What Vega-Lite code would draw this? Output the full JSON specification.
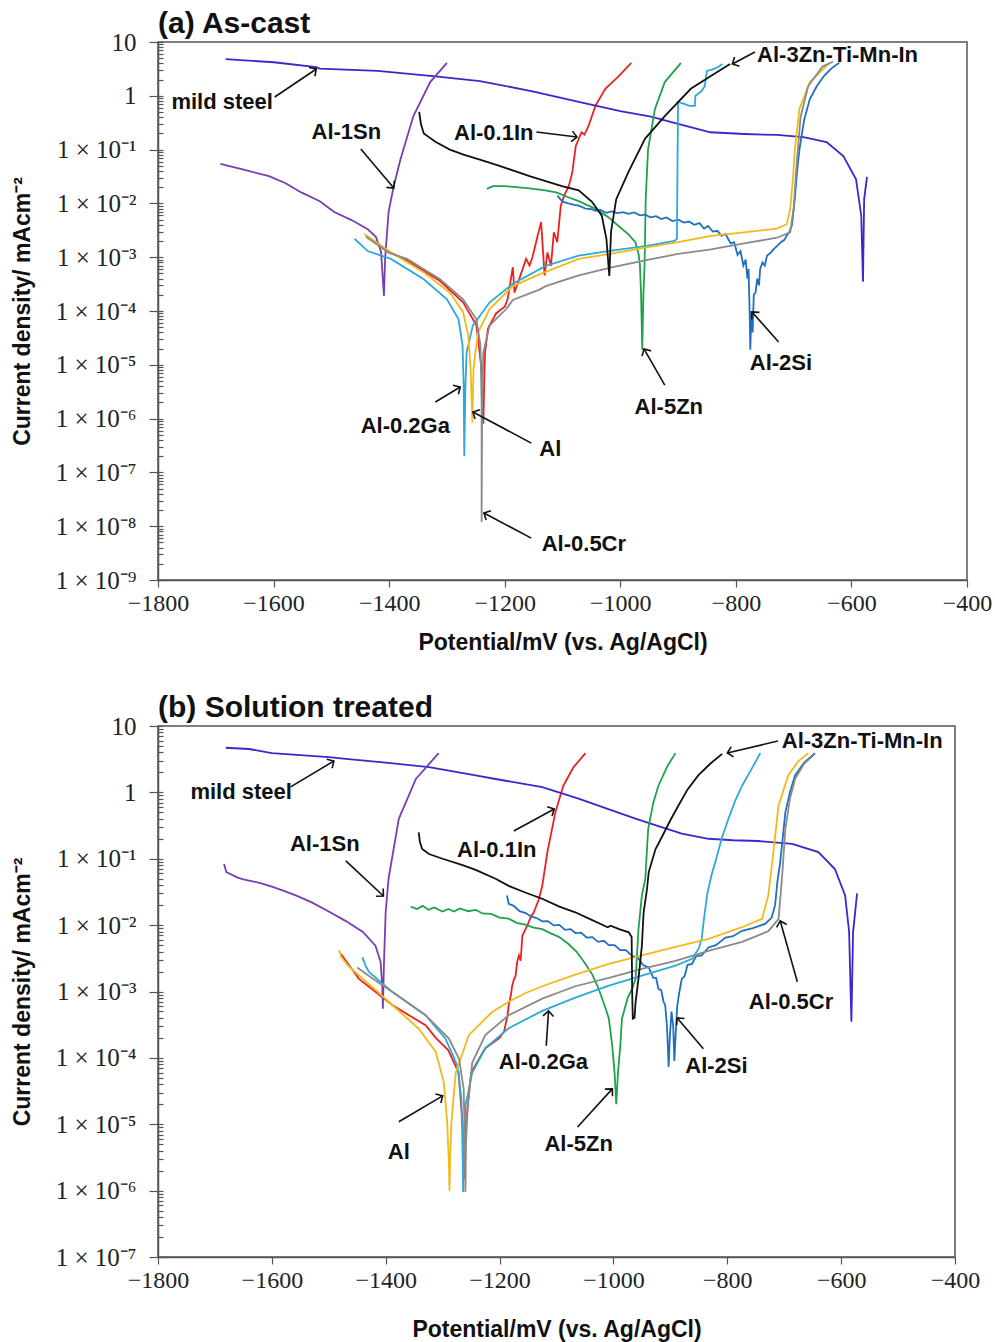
{
  "$schema": "https://vega.github.io/schema/vega-lite/v6.json",
  "background": "white",
  "padding": {"left": 10, "top": 8, "right": 2, "bottom": 2},
  "spacing": 37,
  "datasets": {
    "c": [
      {"p":"a","s":"Al-0.1In","E":-1440,"I":0.0025},{"p":"a","s":"Al-0.1In","E":-1400,"I":0.00125},{"p":"a","s":"Al-0.1In","E":-1369,"I":0.00087},{"p":"a","s":"Al-0.1In","E":-1312,"I":0.00036},{"p":"a","s":"Al-0.1In","E":-1272,"I":0.000145},{"p":"a","s":"Al-0.1In","E":-1249,"I":0.000054},{"p":"a","s":"Al-0.1In","E":-1240,"I":0.0000083},{"p":"a","s":"Al-0.1In","E":-1237,"I":0.0000008},{"p":"a","s":"Al-0.1In","E":-1235,"I":0.0000083},{"p":"a","s":"Al-0.1In","E":-1234,"I":0.000017},{"p":"a","s":"Al-0.1In","E":-1229,"I":0.000047},{"p":"a","s":"Al-0.1In","E":-1215,"I":0.00009},{"p":"a","s":"Al-0.1In","E":-1200,"I":0.00012},{"p":"a","s":"Al-0.1In","E":-1195,"I":0.000165},{"p":"a","s":"Al-0.1In","E":-1186,"I":0.00065},{"p":"a","s":"Al-0.1In","E":-1183,"I":0.00022},{"p":"a","s":"Al-0.1In","E":-1169,"I":0.0006},{"p":"a","s":"Al-0.1In","E":-1163,"I":0.00093},{"p":"a","s":"Al-0.1In","E":-1157,"I":0.0007},{"p":"a","s":"Al-0.1In","E":-1152,"I":0.001},{"p":"a","s":"Al-0.1In","E":-1143,"I":0.0025},{"p":"a","s":"Al-0.1In","E":-1137,"I":0.0045},{"p":"a","s":"Al-0.1In","E":-1131,"I":0.00046},{"p":"a","s":"Al-0.1In","E":-1126,"I":0.00123},{"p":"a","s":"Al-0.1In","E":-1120,"I":0.00069},{"p":"a","s":"Al-0.1In","E":-1115,"I":0.0029},{"p":"a","s":"Al-0.1In","E":-1109,"I":0.0019},{"p":"a","s":"Al-0.1In","E":-1103,"I":0.0091},{"p":"a","s":"Al-0.1In","E":-1097,"I":0.0139},{"p":"a","s":"Al-0.1In","E":-1089,"I":0.0214},{"p":"a","s":"Al-0.1In","E":-1083,"I":0.038},{"p":"a","s":"Al-0.1In","E":-1077,"I":0.117},{"p":"a","s":"Al-0.1In","E":-1067,"I":0.21},{"p":"a","s":"Al-0.1In","E":-1062,"I":0.19},{"p":"a","s":"Al-0.1In","E":-1055,"I":0.275},{"p":"a","s":"Al-0.1In","E":-1043,"I":0.65},{"p":"a","s":"Al-0.1In","E":-1026,"I":1.35},{"p":"a","s":"Al-0.1In","E":-1003,"I":2.3},{"p":"a","s":"Al-0.1In","E":-981,"I":4.1},

      {"p":"a","s":"mild steel","E":-1683,"I":4.8},{"p":"a","s":"mild steel","E":-1600,"I":4.2},{"p":"a","s":"mild steel","E":-1526,"I":3.4},{"p":"a","s":"mild steel","E":-1520,"I":3.2},{"p":"a","s":"mild steel","E":-1420,"I":2.9},{"p":"a","s":"mild steel","E":-1320,"I":2.3},{"p":"a","s":"mild steel","E":-1243,"I":1.88},{"p":"a","s":"mild steel","E":-1150,"I":1.2},{"p":"a","s":"mild steel","E":-1072,"I":0.77},{"p":"a","s":"mild steel","E":-1000,"I":0.52},{"p":"a","s":"mild steel","E":-947,"I":0.41},{"p":"a","s":"mild steel","E":-900,"I":0.3},{"p":"a","s":"mild steel","E":-844,"I":0.21},{"p":"a","s":"mild steel","E":-786,"I":0.195},{"p":"a","s":"mild steel","E":-729,"I":0.187},{"p":"a","s":"mild steel","E":-683,"I":0.17},{"p":"a","s":"mild steel","E":-643,"I":0.138},{"p":"a","s":"mild steel","E":-614,"I":0.076},{"p":"a","s":"mild steel","E":-592,"I":0.028},{"p":"a","s":"mild steel","E":-583,"I":0.0059},{"p":"a","s":"mild steel","E":-580,"I":0.00035},{"p":"a","s":"mild steel","E":-578,"I":0.012},{"p":"a","s":"mild steel","E":-573,"I":0.031},

      {"p":"a","s":"Al-1Sn","E":-1692,"I":0.054},{"p":"a","s":"Al-1Sn","E":-1650,"I":0.042},{"p":"a","s":"Al-1Sn","E":-1608,"I":0.032},{"p":"a","s":"Al-1Sn","E":-1580,"I":0.024},{"p":"a","s":"Al-1Sn","E":-1552,"I":0.016},{"p":"a","s":"Al-1Sn","E":-1520,"I":0.011},{"p":"a","s":"Al-1Sn","E":-1495,"I":0.0069},{"p":"a","s":"Al-1Sn","E":-1465,"I":0.0049},{"p":"a","s":"Al-1Sn","E":-1437,"I":0.0033},{"p":"a","s":"Al-1Sn","E":-1423,"I":0.0024},{"p":"a","s":"Al-1Sn","E":-1414,"I":0.00126},{"p":"a","s":"Al-1Sn","E":-1409,"I":0.00019},{"p":"a","s":"Al-1Sn","E":-1407,"I":0.00093},{"p":"a","s":"Al-1Sn","E":-1401,"I":0.0069},{"p":"a","s":"Al-1Sn","E":-1392,"I":0.021},{"p":"a","s":"Al-1Sn","E":-1380,"I":0.068},{"p":"a","s":"Al-1Sn","E":-1358,"I":0.42},{"p":"a","s":"Al-1Sn","E":-1329,"I":1.8},{"p":"a","s":"Al-1Sn","E":-1300,"I":4.1},

      {"p":"a","s":"Al-5Zn","E":-1231,"I":0.0186},{"p":"a","s":"Al-5Zn","E":-1220,"I":0.021},{"p":"a","s":"Al-5Zn","E":-1200,"I":0.021},{"p":"a","s":"Al-5Zn","E":-1180,"I":0.02},{"p":"a","s":"Al-5Zn","E":-1157,"I":0.019},{"p":"a","s":"Al-5Zn","E":-1130,"I":0.0175},{"p":"a","s":"Al-5Zn","E":-1111,"I":0.016},{"p":"a","s":"Al-5Zn","E":-1090,"I":0.013},{"p":"a","s":"Al-5Zn","E":-1072,"I":0.011},{"p":"a","s":"Al-5Zn","E":-1043,"I":0.0079},{"p":"a","s":"Al-5Zn","E":-1020,"I":0.0055},{"p":"a","s":"Al-5Zn","E":-1003,"I":0.0038},{"p":"a","s":"Al-5Zn","E":-985,"I":0.0026},{"p":"a","s":"Al-5Zn","E":-974,"I":0.0019},{"p":"a","s":"Al-5Zn","E":-968,"I":0.0011},{"p":"a","s":"Al-5Zn","E":-966,"I":0.0007},{"p":"a","s":"Al-5Zn","E":-964,"I":0.0002},{"p":"a","s":"Al-5Zn","E":-962,"I":0.000019},{"p":"a","s":"Al-5Zn","E":-960,"I":0.0002},{"p":"a","s":"Al-5Zn","E":-958,"I":0.0007},{"p":"a","s":"Al-5Zn","E":-956,"I":0.012},{"p":"a","s":"Al-5Zn","E":-952,"I":0.1},{"p":"a","s":"Al-5Zn","E":-940,"I":0.57},{"p":"a","s":"Al-5Zn","E":-923,"I":1.8},{"p":"a","s":"Al-5Zn","E":-895,"I":4.1},

      {"p":"a","s":"Al-2Si","E":-1109,"I":0.0139},{"p":"a","s":"Al-2Si","E":-1100,"I":0.0108},{"p":"a","s":"Al-2Si","E":-1090,"I":0.01},{"p":"a","s":"Al-2Si","E":-1080,"I":0.0094},{"p":"a","s":"Al-2Si","E":-1072,"I":0.0091},{"p":"a","s":"Al-2Si","E":-1060,"I":0.008},{"p":"a","s":"Al-2Si","E":-1050,"I":0.0078},{"p":"a","s":"Al-2Si","E":-1043,"I":0.0073},{"p":"a","s":"Al-2Si","E":-1035,"I":0.0076},{"p":"a","s":"Al-2Si","E":-1025,"I":0.0067},{"p":"a","s":"Al-2Si","E":-1015,"I":0.0071},{"p":"a","s":"Al-2Si","E":-1005,"I":0.0066},{"p":"a","s":"Al-2Si","E":-995,"I":0.0069},{"p":"a","s":"Al-2Si","E":-986,"I":0.0064},{"p":"a","s":"Al-2Si","E":-976,"I":0.0068},{"p":"a","s":"Al-2Si","E":-966,"I":0.006},{"p":"a","s":"Al-2Si","E":-957,"I":0.0062},{"p":"a","s":"Al-2Si","E":-948,"I":0.0055},{"p":"a","s":"Al-2Si","E":-938,"I":0.0058},{"p":"a","s":"Al-2Si","E":-929,"I":0.0051},{"p":"a","s":"Al-2Si","E":-920,"I":0.0055},{"p":"a","s":"Al-2Si","E":-910,"I":0.0047},{"p":"a","s":"Al-2Si","E":-900,"I":0.005},{"p":"a","s":"Al-2Si","E":-890,"I":0.0044},{"p":"a","s":"Al-2Si","E":-881,"I":0.0046},{"p":"a","s":"Al-2Si","E":-872,"I":0.004},{"p":"a","s":"Al-2Si","E":-863,"I":0.0043},{"p":"a","s":"Al-2Si","E":-855,"I":0.0034},{"p":"a","s":"Al-2Si","E":-848,"I":0.0038},{"p":"a","s":"Al-2Si","E":-840,"I":0.003},{"p":"a","s":"Al-2Si","E":-832,"I":0.0031},{"p":"a","s":"Al-2Si","E":-825,"I":0.0025},{"p":"a","s":"Al-2Si","E":-818,"I":0.0027},{"p":"a","s":"Al-2Si","E":-809,"I":0.0018},{"p":"a","s":"Al-2Si","E":-803,"I":0.0019},{"p":"a","s":"Al-2Si","E":-797,"I":0.0011},{"p":"a","s":"Al-2Si","E":-792,"I":0.0013},{"p":"a","s":"Al-2Si","E":-787,"I":0.0007},{"p":"a","s":"Al-2Si","E":-783,"I":0.0009},{"p":"a","s":"Al-2Si","E":-780,"I":0.0004},{"p":"a","s":"Al-2Si","E":-778,"I":0.0006},{"p":"a","s":"Al-2Si","E":-776,"I":0.00008},{"p":"a","s":"Al-2Si","E":-775,"I":0.000019},{"p":"a","s":"Al-2Si","E":-773,"I":0.0001},{"p":"a","s":"Al-2Si","E":-771,"I":0.00004},{"p":"a","s":"Al-2Si","E":-769,"I":0.0002},{"p":"a","s":"Al-2Si","E":-766,"I":0.00022},{"p":"a","s":"Al-2Si","E":-763,"I":0.0004},{"p":"a","s":"Al-2Si","E":-760,"I":0.0003},{"p":"a","s":"Al-2Si","E":-758,"I":0.0006},{"p":"a","s":"Al-2Si","E":-754,"I":0.0008},{"p":"a","s":"Al-2Si","E":-750,"I":0.0007},{"p":"a","s":"Al-2Si","E":-746,"I":0.00107},{"p":"a","s":"Al-2Si","E":-740,"I":0.0012},{"p":"a","s":"Al-2Si","E":-735,"I":0.0014},{"p":"a","s":"Al-2Si","E":-729,"I":0.0016},{"p":"a","s":"Al-2Si","E":-722,"I":0.0019},{"p":"a","s":"Al-2Si","E":-716,"I":0.0021},{"p":"a","s":"Al-2Si","E":-712,"I":0.0025},{"p":"a","s":"Al-2Si","E":-707,"I":0.003},{"p":"a","s":"Al-2Si","E":-703,"I":0.0039},{"p":"a","s":"Al-2Si","E":-698,"I":0.012},{"p":"a","s":"Al-2Si","E":-694,"I":0.04},{"p":"a","s":"Al-2Si","E":-690,"I":0.1},{"p":"a","s":"Al-2Si","E":-682,"I":0.35},{"p":"a","s":"Al-2Si","E":-672,"I":0.87},{"p":"a","s":"Al-2Si","E":-660,"I":1.5},{"p":"a","s":"Al-2Si","E":-648,"I":2.3},{"p":"a","s":"Al-2Si","E":-635,"I":3.2},{"p":"a","s":"Al-2Si","E":-621,"I":4.1},

      {"p":"a","s":"Al-0.2Ga","E":-1460,"I":0.0022},{"p":"a","s":"Al-0.2Ga","E":-1437,"I":0.0013},{"p":"a","s":"Al-0.2Ga","E":-1397,"I":0.00093},{"p":"a","s":"Al-0.2Ga","E":-1340,"I":0.00039},{"p":"a","s":"Al-0.2Ga","E":-1300,"I":0.000165},{"p":"a","s":"Al-0.2Ga","E":-1280,"I":0.000071},{"p":"a","s":"Al-0.2Ga","E":-1273,"I":0.000023},{"p":"a","s":"Al-0.2Ga","E":-1271,"I":0.000004},{"p":"a","s":"Al-0.2Ga","E":-1270,"I":0.0000002},{"p":"a","s":"Al-0.2Ga","E":-1268,"I":0.000004},{"p":"a","s":"Al-0.2Ga","E":-1266,"I":0.000017},{"p":"a","s":"Al-0.2Ga","E":-1255,"I":0.000054},{"p":"a","s":"Al-0.2Ga","E":-1226,"I":0.000145},{"p":"a","s":"Al-0.2Ga","E":-1186,"I":0.00032},{"p":"a","s":"Al-0.2Ga","E":-1129,"I":0.00069},{"p":"a","s":"Al-0.2Ga","E":-1072,"I":0.00107},{"p":"a","s":"Al-0.2Ga","E":-1015,"I":0.00132},{"p":"a","s":"Al-0.2Ga","E":-957,"I":0.0016},{"p":"a","s":"Al-0.2Ga","E":-906,"I":0.002},{"p":"a","s":"Al-0.2Ga","E":-902,"I":0.0022},{"p":"a","s":"Al-0.2Ga","E":-901,"I":0.05},{"p":"a","s":"Al-0.2Ga","E":-900,"I":0.77},{"p":"a","s":"Al-0.2Ga","E":-892,"I":0.72},{"p":"a","s":"Al-0.2Ga","E":-880,"I":0.65},{"p":"a","s":"Al-0.2Ga","E":-871,"I":0.65},{"p":"a","s":"Al-0.2Ga","E":-870,"I":1.0},{"p":"a","s":"Al-0.2Ga","E":-860,"I":1.2},{"p":"a","s":"Al-0.2Ga","E":-854,"I":1.5},{"p":"a","s":"Al-0.2Ga","E":-850,"I":2.9},{"p":"a","s":"Al-0.2Ga","E":-840,"I":3.1},{"p":"a","s":"Al-0.2Ga","E":-832,"I":3.4},{"p":"a","s":"Al-0.2Ga","E":-823,"I":3.9},

      {"p":"a","s":"Al","E":-1443,"I":0.0027},{"p":"a","s":"Al","E":-1397,"I":0.00123},{"p":"a","s":"Al","E":-1340,"I":0.00052},{"p":"a","s":"Al","E":-1295,"I":0.00022},{"p":"a","s":"Al","E":-1272,"I":0.000095},{"p":"a","s":"Al","E":-1263,"I":0.000035},{"p":"a","s":"Al","E":-1259,"I":0.0000083},{"p":"a","s":"Al","E":-1256,"I":0.00000085},{"p":"a","s":"Al","E":-1254,"I":0.0000083},{"p":"a","s":"Al","E":-1250,"I":0.00002},{"p":"a","s":"Al","E":-1246,"I":0.00004},{"p":"a","s":"Al","E":-1226,"I":0.00011},{"p":"a","s":"Al","E":-1186,"I":0.00029},{"p":"a","s":"Al","E":-1140,"I":0.00048},{"p":"a","s":"Al","E":-1072,"I":0.00093},{"p":"a","s":"Al","E":-1015,"I":0.00117},{"p":"a","s":"Al","E":-957,"I":0.0015},{"p":"a","s":"Al","E":-900,"I":0.0019},{"p":"a","s":"Al","E":-843,"I":0.0025},{"p":"a","s":"Al","E":-786,"I":0.0029},{"p":"a","s":"Al","E":-729,"I":0.0034},{"p":"a","s":"Al","E":-712,"I":0.0041},{"p":"a","s":"Al","E":-706,"I":0.0079},{"p":"a","s":"Al","E":-701,"I":0.03},{"p":"a","s":"Al","E":-698,"I":0.1},{"p":"a","s":"Al","E":-690,"I":0.57},{"p":"a","s":"Al","E":-672,"I":1.8},{"p":"a","s":"Al","E":-638,"I":4.1},

      {"p":"a","s":"Al-0.5Cr","E":-1440,"I":0.0024},{"p":"a","s":"Al-0.5Cr","E":-1400,"I":0.0012},{"p":"a","s":"Al-0.5Cr","E":-1369,"I":0.00093},{"p":"a","s":"Al-0.5Cr","E":-1312,"I":0.00039},{"p":"a","s":"Al-0.5Cr","E":-1272,"I":0.000165},{"p":"a","s":"Al-0.5Cr","E":-1249,"I":0.00007},{"p":"a","s":"Al-0.5Cr","E":-1242,"I":0.000023},{"p":"a","s":"Al-0.5Cr","E":-1240,"I":0.000002},{"p":"a","s":"Al-0.5Cr","E":-1240,"I":0.000000012},{"p":"a","s":"Al-0.5Cr","E":-1239,"I":0.000002},{"p":"a","s":"Al-0.5Cr","E":-1237,"I":0.000017},{"p":"a","s":"Al-0.5Cr","E":-1226,"I":0.000054},{"p":"a","s":"Al-0.5Cr","E":-1197,"I":0.00011},{"p":"a","s":"Al-0.5Cr","E":-1186,"I":0.00016},{"p":"a","s":"Al-0.5Cr","E":-1140,"I":0.00025},{"p":"a","s":"Al-0.5Cr","E":-1129,"I":0.00029},{"p":"a","s":"Al-0.5Cr","E":-1072,"I":0.00046},{"p":"a","s":"Al-0.5Cr","E":-1015,"I":0.00065},{"p":"a","s":"Al-0.5Cr","E":-957,"I":0.00087},{"p":"a","s":"Al-0.5Cr","E":-900,"I":0.00115},{"p":"a","s":"Al-0.5Cr","E":-843,"I":0.0014},{"p":"a","s":"Al-0.5Cr","E":-786,"I":0.0018},{"p":"a","s":"Al-0.5Cr","E":-729,"I":0.0023},{"p":"a","s":"Al-0.5Cr","E":-706,"I":0.0029},{"p":"a","s":"Al-0.5Cr","E":-700,"I":0.008},{"p":"a","s":"Al-0.5Cr","E":-695,"I":0.05},{"p":"a","s":"Al-0.5Cr","E":-688,"I":0.4},{"p":"a","s":"Al-0.5Cr","E":-675,"I":1.5},{"p":"a","s":"Al-0.5Cr","E":-650,"I":3.5},{"p":"a","s":"Al-0.5Cr","E":-632,"I":4.3},

      {"p":"a","s":"Al-3Zn-Ti-Mn-In","E":-1348,"I":0.5},{"p":"a","s":"Al-3Zn-Ti-Mn-In","E":-1345,"I":0.3},{"p":"a","s":"Al-3Zn-Ti-Mn-In","E":-1340,"I":0.2},{"p":"a","s":"Al-3Zn-Ti-Mn-In","E":-1320,"I":0.14},{"p":"a","s":"Al-3Zn-Ti-Mn-In","E":-1295,"I":0.1},{"p":"a","s":"Al-3Zn-Ti-Mn-In","E":-1270,"I":0.08},{"p":"a","s":"Al-3Zn-Ti-Mn-In","E":-1243,"I":0.065},{"p":"a","s":"Al-3Zn-Ti-Mn-In","E":-1209,"I":0.05},{"p":"a","s":"Al-3Zn-Ti-Mn-In","E":-1157,"I":0.032},{"p":"a","s":"Al-3Zn-Ti-Mn-In","E":-1101,"I":0.021},{"p":"a","s":"Al-3Zn-Ti-Mn-In","E":-1072,"I":0.0175},{"p":"a","s":"Al-3Zn-Ti-Mn-In","E":-1049,"I":0.0107},{"p":"a","s":"Al-3Zn-Ti-Mn-In","E":-1032,"I":0.0059},{"p":"a","s":"Al-3Zn-Ti-Mn-In","E":-1024,"I":0.0022},{"p":"a","s":"Al-3Zn-Ti-Mn-In","E":-1019,"I":0.00045},{"p":"a","s":"Al-3Zn-Ti-Mn-In","E":-1016,"I":0.003},{"p":"a","s":"Al-3Zn-Ti-Mn-In","E":-1007,"I":0.012},{"p":"a","s":"Al-3Zn-Ti-Mn-In","E":-986,"I":0.038},{"p":"a","s":"Al-3Zn-Ti-Mn-In","E":-957,"I":0.16},{"p":"a","s":"Al-3Zn-Ti-Mn-In","E":-923,"I":0.42},{"p":"a","s":"Al-3Zn-Ti-Mn-In","E":-878,"I":1.35},{"p":"a","s":"Al-3Zn-Ti-Mn-In","E":-844,"I":2.3},{"p":"a","s":"Al-3Zn-Ti-Mn-In","E":-810,"I":3.9},

      {"p":"b","s":"Al-0.1In","E":-1479,"I":0.0037},{"p":"b","s":"Al-0.1In","E":-1447,"I":0.00155},{"p":"b","s":"Al-0.1In","E":-1388,"I":0.00062},{"p":"b","s":"Al-0.1In","E":-1330,"I":0.00031},{"p":"b","s":"Al-0.1In","E":-1312,"I":0.0002},{"p":"b","s":"Al-0.1In","E":-1290,"I":0.00013},{"p":"b","s":"Al-0.1In","E":-1272,"I":0.00006},{"p":"b","s":"Al-0.1In","E":-1265,"I":0.00001},{"p":"b","s":"Al-0.1In","E":-1262,"I":0.0000015},{"p":"b","s":"Al-0.1In","E":-1259,"I":0.00001},{"p":"b","s":"Al-0.1In","E":-1250,"I":0.00006},{"p":"b","s":"Al-0.1In","E":-1225,"I":0.00014},{"p":"b","s":"Al-0.1In","E":-1200,"I":0.0002},{"p":"b","s":"Al-0.1In","E":-1192,"I":0.00025},{"p":"b","s":"Al-0.1In","E":-1186,"I":0.00044},{"p":"b","s":"Al-0.1In","E":-1184,"I":0.00062},{"p":"b","s":"Al-0.1In","E":-1180,"I":0.0009},{"p":"b","s":"Al-0.1In","E":-1178,"I":0.0012},{"p":"b","s":"Al-0.1In","E":-1175,"I":0.0015},{"p":"b","s":"Al-0.1In","E":-1172,"I":0.0017},{"p":"b","s":"Al-0.1In","E":-1169,"I":0.0028},{"p":"b","s":"Al-0.1In","E":-1166,"I":0.0035},{"p":"b","s":"Al-0.1In","E":-1163,"I":0.0029},{"p":"b","s":"Al-0.1In","E":-1160,"I":0.0069},{"p":"b","s":"Al-0.1In","E":-1155,"I":0.0085},{"p":"b","s":"Al-0.1In","E":-1149,"I":0.011},{"p":"b","s":"Al-0.1In","E":-1145,"I":0.0135},{"p":"b","s":"Al-0.1In","E":-1140,"I":0.0155},{"p":"b","s":"Al-0.1In","E":-1131,"I":0.0245},{"p":"b","s":"Al-0.1In","E":-1125,"I":0.039},{"p":"b","s":"Al-0.1In","E":-1116,"I":0.126},{"p":"b","s":"Al-0.1In","E":-1102,"I":0.5},{"p":"b","s":"Al-0.1In","E":-1088,"I":1.26},{"p":"b","s":"Al-0.1In","E":-1070,"I":2.4},{"p":"b","s":"Al-0.1In","E":-1049,"I":3.9},

      {"p":"b","s":"mild steel","E":-1681,"I":4.7},{"p":"b","s":"mild steel","E":-1640,"I":4.5},{"p":"b","s":"mild steel","E":-1600,"I":3.9},{"p":"b","s":"mild steel","E":-1500,"I":3.4},{"p":"b","s":"mild steel","E":-1470,"I":3.2},{"p":"b","s":"mild steel","E":-1400,"I":2.8},{"p":"b","s":"mild steel","E":-1324,"I":2.4},{"p":"b","s":"mild steel","E":-1242,"I":1.8},{"p":"b","s":"mild steel","E":-1207,"I":1.59},{"p":"b","s":"mild steel","E":-1125,"I":1.2},{"p":"b","s":"mild steel","E":-1060,"I":0.8},{"p":"b","s":"mild steel","E":-1009,"I":0.56},{"p":"b","s":"mild steel","E":-960,"I":0.4},{"p":"b","s":"mild steel","E":-921,"I":0.31},{"p":"b","s":"mild steel","E":-880,"I":0.24},{"p":"b","s":"mild steel","E":-833,"I":0.2},{"p":"b","s":"mild steel","E":-790,"I":0.19},{"p":"b","s":"mild steel","E":-746,"I":0.185},{"p":"b","s":"mild steel","E":-686,"I":0.167},{"p":"b","s":"mild steel","E":-640,"I":0.126},{"p":"b","s":"mild steel","E":-611,"I":0.07},{"p":"b","s":"mild steel","E":-593,"I":0.028},{"p":"b","s":"mild steel","E":-586,"I":0.0079},{"p":"b","s":"mild steel","E":-582,"I":0.00035},{"p":"b","s":"mild steel","E":-579,"I":0.0079},{"p":"b","s":"mild steel","E":-572,"I":0.03},

      {"p":"b","s":"Al-1Sn","E":-1684,"I":0.083},{"p":"b","s":"Al-1Sn","E":-1680,"I":0.063},{"p":"b","s":"Al-1Sn","E":-1660,"I":0.052},{"p":"b","s":"Al-1Sn","E":-1650,"I":0.049},{"p":"b","s":"Al-1Sn","E":-1640,"I":0.047},{"p":"b","s":"Al-1Sn","E":-1620,"I":0.043},{"p":"b","s":"Al-1Sn","E":-1600,"I":0.038},{"p":"b","s":"Al-1Sn","E":-1580,"I":0.033},{"p":"b","s":"Al-1Sn","E":-1558,"I":0.028},{"p":"b","s":"Al-1Sn","E":-1530,"I":0.022},{"p":"b","s":"Al-1Sn","E":-1500,"I":0.016},{"p":"b","s":"Al-1Sn","E":-1470,"I":0.0115},{"p":"b","s":"Al-1Sn","E":-1440,"I":0.0079},{"p":"b","s":"Al-1Sn","E":-1418,"I":0.0049},{"p":"b","s":"Al-1Sn","E":-1409,"I":0.0028},{"p":"b","s":"Al-1Sn","E":-1406,"I":0.0012},{"p":"b","s":"Al-1Sn","E":-1405,"I":0.00055},{"p":"b","s":"Al-1Sn","E":-1404,"I":0.0012},{"p":"b","s":"Al-1Sn","E":-1403,"I":0.0028},{"p":"b","s":"Al-1Sn","E":-1400,"I":0.016},{"p":"b","s":"Al-1Sn","E":-1395,"I":0.05},{"p":"b","s":"Al-1Sn","E":-1377,"I":0.4},{"p":"b","s":"Al-1Sn","E":-1347,"I":1.59},{"p":"b","s":"Al-1Sn","E":-1307,"I":3.9},

      {"p":"b","s":"Al-5Zn","E":-1356,"I":0.019},{"p":"b","s":"Al-5Zn","E":-1345,"I":0.0175},{"p":"b","s":"Al-5Zn","E":-1335,"I":0.0195},{"p":"b","s":"Al-5Zn","E":-1325,"I":0.017},{"p":"b","s":"Al-5Zn","E":-1315,"I":0.0185},{"p":"b","s":"Al-5Zn","E":-1300,"I":0.016},{"p":"b","s":"Al-5Zn","E":-1290,"I":0.0175},{"p":"b","s":"Al-5Zn","E":-1280,"I":0.016},{"p":"b","s":"Al-5Zn","E":-1270,"I":0.0178},{"p":"b","s":"Al-5Zn","E":-1255,"I":0.0162},{"p":"b","s":"Al-5Zn","E":-1242,"I":0.017},{"p":"b","s":"Al-5Zn","E":-1230,"I":0.015},{"p":"b","s":"Al-5Zn","E":-1215,"I":0.0148},{"p":"b","s":"Al-5Zn","E":-1200,"I":0.013},{"p":"b","s":"Al-5Zn","E":-1184,"I":0.0125},{"p":"b","s":"Al-5Zn","E":-1170,"I":0.0108},{"p":"b","s":"Al-5Zn","E":-1155,"I":0.0102},{"p":"b","s":"Al-5Zn","E":-1140,"I":0.0092},{"p":"b","s":"Al-5Zn","E":-1125,"I":0.0087},{"p":"b","s":"Al-5Zn","E":-1110,"I":0.0075},{"p":"b","s":"Al-5Zn","E":-1095,"I":0.0066},{"p":"b","s":"Al-5Zn","E":-1079,"I":0.0052},{"p":"b","s":"Al-5Zn","E":-1065,"I":0.004},{"p":"b","s":"Al-5Zn","E":-1049,"I":0.0026},{"p":"b","s":"Al-5Zn","E":-1037,"I":0.0018},{"p":"b","s":"Al-5Zn","E":-1026,"I":0.0011},{"p":"b","s":"Al-5Zn","E":-1015,"I":0.0006},{"p":"b","s":"Al-5Zn","E":-1008,"I":0.00039},{"p":"b","s":"Al-5Zn","E":-1002,"I":0.00015},{"p":"b","s":"Al-5Zn","E":-998,"I":0.00006},{"p":"b","s":"Al-5Zn","E":-995,"I":0.00002},{"p":"b","s":"Al-5Zn","E":-992,"I":0.00006},{"p":"b","s":"Al-5Zn","E":-988,"I":0.00015},{"p":"b","s":"Al-5Zn","E":-985,"I":0.00039},{"p":"b","s":"Al-5Zn","E":-975,"I":0.0008},{"p":"b","s":"Al-5Zn","E":-967,"I":0.0011},{"p":"b","s":"Al-5Zn","E":-961,"I":0.00155},{"p":"b","s":"Al-5Zn","E":-956,"I":0.0087},{"p":"b","s":"Al-5Zn","E":-950,"I":0.028},{"p":"b","s":"Al-5Zn","E":-944,"I":0.05},{"p":"b","s":"Al-5Zn","E":-939,"I":0.28},{"p":"b","s":"Al-5Zn","E":-930,"I":0.7},{"p":"b","s":"Al-5Zn","E":-921,"I":1.26},{"p":"b","s":"Al-5Zn","E":-905,"I":2.5},{"p":"b","s":"Al-5Zn","E":-891,"I":3.9},

      {"p":"b","s":"Al-2Si","E":-1187,"I":0.028},{"p":"b","s":"Al-2Si","E":-1184,"I":0.021},{"p":"b","s":"Al-2Si","E":-1175,"I":0.0195},{"p":"b","s":"Al-2Si","E":-1165,"I":0.0162},{"p":"b","s":"Al-2Si","E":-1154,"I":0.0152},{"p":"b","s":"Al-2Si","E":-1145,"I":0.0135},{"p":"b","s":"Al-2Si","E":-1135,"I":0.0128},{"p":"b","s":"Al-2Si","E":-1125,"I":0.0114},{"p":"b","s":"Al-2Si","E":-1115,"I":0.0115},{"p":"b","s":"Al-2Si","E":-1105,"I":0.0099},{"p":"b","s":"Al-2Si","E":-1095,"I":0.0101},{"p":"b","s":"Al-2Si","E":-1085,"I":0.0085},{"p":"b","s":"Al-2Si","E":-1075,"I":0.0087},{"p":"b","s":"Al-2Si","E":-1067,"I":0.0076},{"p":"b","s":"Al-2Si","E":-1057,"I":0.0077},{"p":"b","s":"Al-2Si","E":-1047,"I":0.0065},{"p":"b","s":"Al-2Si","E":-1037,"I":0.0066},{"p":"b","s":"Al-2Si","E":-1027,"I":0.0056},{"p":"b","s":"Al-2Si","E":-1017,"I":0.0058},{"p":"b","s":"Al-2Si","E":-1008,"I":0.005},{"p":"b","s":"Al-2Si","E":-998,"I":0.005},{"p":"b","s":"Al-2Si","E":-988,"I":0.0042},{"p":"b","s":"Al-2Si","E":-978,"I":0.0042},{"p":"b","s":"Al-2Si","E":-967,"I":0.0034},{"p":"b","s":"Al-2Si","E":-958,"I":0.0033},{"p":"b","s":"Al-2Si","E":-948,"I":0.0025},{"p":"b","s":"Al-2Si","E":-938,"I":0.0023},{"p":"b","s":"Al-2Si","E":-930,"I":0.0016},{"p":"b","s":"Al-2Si","E":-925,"I":0.0016},{"p":"b","s":"Al-2Si","E":-921,"I":0.0011},{"p":"b","s":"Al-2Si","E":-916,"I":0.00105},{"p":"b","s":"Al-2Si","E":-912,"I":0.0007},{"p":"b","s":"Al-2Si","E":-909,"I":0.00062},{"p":"b","s":"Al-2Si","E":-906,"I":0.0003},{"p":"b","s":"Al-2Si","E":-904,"I":0.00012},{"p":"b","s":"Al-2Si","E":-903,"I":0.000073},{"p":"b","s":"Al-2Si","E":-901,"I":0.0002},{"p":"b","s":"Al-2Si","E":-898,"I":0.0005},{"p":"b","s":"Al-2Si","E":-895,"I":0.0003},{"p":"b","s":"Al-2Si","E":-893,"I":0.00009},{"p":"b","s":"Al-2Si","E":-891,"I":0.0002},{"p":"b","s":"Al-2Si","E":-888,"I":0.0006},{"p":"b","s":"Al-2Si","E":-885,"I":0.0009},{"p":"b","s":"Al-2Si","E":-880,"I":0.00155},{"p":"b","s":"Al-2Si","E":-875,"I":0.0017},{"p":"b","s":"Al-2Si","E":-870,"I":0.0025},{"p":"b","s":"Al-2Si","E":-862,"I":0.0026},{"p":"b","s":"Al-2Si","E":-855,"I":0.0034},{"p":"b","s":"Al-2Si","E":-845,"I":0.0035},{"p":"b","s":"Al-2Si","E":-833,"I":0.0046},{"p":"b","s":"Al-2Si","E":-820,"I":0.005},{"p":"b","s":"Al-2Si","E":-803,"I":0.0065},{"p":"b","s":"Al-2Si","E":-790,"I":0.0068},{"p":"b","s":"Al-2Si","E":-774,"I":0.0082},{"p":"b","s":"Al-2Si","E":-755,"I":0.009},{"p":"b","s":"Al-2Si","E":-733,"I":0.0105},{"p":"b","s":"Al-2Si","E":-722,"I":0.013},{"p":"b","s":"Al-2Si","E":-716,"I":0.02},{"p":"b","s":"Al-2Si","E":-712,"I":0.045},{"p":"b","s":"Al-2Si","E":-707,"I":0.089},{"p":"b","s":"Al-2Si","E":-698,"I":0.5},{"p":"b","s":"Al-2Si","E":-690,"I":1.0},{"p":"b","s":"Al-2Si","E":-681,"I":1.8},{"p":"b","s":"Al-2Si","E":-665,"I":2.8},{"p":"b","s":"Al-2Si","E":-646,"I":3.9},

      {"p":"b","s":"Al-0.2Ga","E":-1441,"I":0.0033},{"p":"b","s":"Al-0.2Ga","E":-1435,"I":0.0024},{"p":"b","s":"Al-0.2Ga","E":-1429,"I":0.00195},{"p":"b","s":"Al-0.2Ga","E":-1388,"I":0.00098},{"p":"b","s":"Al-0.2Ga","E":-1330,"I":0.00044},{"p":"b","s":"Al-0.2Ga","E":-1295,"I":0.000195},{"p":"b","s":"Al-0.2Ga","E":-1274,"I":0.000076},{"p":"b","s":"Al-0.2Ga","E":-1267,"I":0.000024},{"p":"b","s":"Al-0.2Ga","E":-1265,"I":0.000004},{"p":"b","s":"Al-0.2Ga","E":-1264,"I":0.00000095},{"p":"b","s":"Al-0.2Ga","E":-1263,"I":0.000004},{"p":"b","s":"Al-0.2Ga","E":-1260,"I":0.000019},{"p":"b","s":"Al-0.2Ga","E":-1248,"I":0.00006},{"p":"b","s":"Al-0.2Ga","E":-1225,"I":0.00014},{"p":"b","s":"Al-0.2Ga","E":-1184,"I":0.00028},{"p":"b","s":"Al-0.2Ga","E":-1125,"I":0.00051},{"p":"b","s":"Al-0.2Ga","E":-1067,"I":0.00081},{"p":"b","s":"Al-0.2Ga","E":-1008,"I":0.00123},{"p":"b","s":"Al-0.2Ga","E":-950,"I":0.00174},{"p":"b","s":"Al-0.2Ga","E":-891,"I":0.00245},{"p":"b","s":"Al-0.2Ga","E":-862,"I":0.0031},{"p":"b","s":"Al-0.2Ga","E":-850,"I":0.0045},{"p":"b","s":"Al-0.2Ga","E":-845,"I":0.0062},{"p":"b","s":"Al-0.2Ga","E":-841,"I":0.0123},{"p":"b","s":"Al-0.2Ga","E":-835,"I":0.03},{"p":"b","s":"Al-0.2Ga","E":-827,"I":0.06},{"p":"b","s":"Al-0.2Ga","E":-821,"I":0.089},{"p":"b","s":"Al-0.2Ga","E":-810,"I":0.2},{"p":"b","s":"Al-0.2Ga","E":-798,"I":0.4},{"p":"b","s":"Al-0.2Ga","E":-786,"I":0.75},{"p":"b","s":"Al-0.2Ga","E":-774,"I":1.26},{"p":"b","s":"Al-0.2Ga","E":-758,"I":2.2},{"p":"b","s":"Al-0.2Ga","E":-742,"I":3.9},

      {"p":"b","s":"Al","E":-1482,"I":0.0042},{"p":"b","s":"Al","E":-1478,"I":0.0033},{"p":"b","s":"Al","E":-1465,"I":0.0024},{"p":"b","s":"Al","E":-1447,"I":0.00174},{"p":"b","s":"Al","E":-1420,"I":0.0011},{"p":"b","s":"Al","E":-1388,"I":0.00062},{"p":"b","s":"Al","E":-1342,"I":0.000275},{"p":"b","s":"Al","E":-1312,"I":0.000123},{"p":"b","s":"Al","E":-1298,"I":0.000043},{"p":"b","s":"Al","E":-1292,"I":0.0000107},{"p":"b","s":"Al","E":-1289,"I":0.0000025},{"p":"b","s":"Al","E":-1288,"I":0.000001},{"p":"b","s":"Al","E":-1287,"I":0.0000025},{"p":"b","s":"Al","E":-1285,"I":0.0000095},{"p":"b","s":"Al","E":-1277,"I":0.00006},{"p":"b","s":"Al","E":-1254,"I":0.00022},{"p":"b","s":"Al","E":-1213,"I":0.00049},{"p":"b","s":"Al","E":-1184,"I":0.0007},{"p":"b","s":"Al","E":-1154,"I":0.00095},{"p":"b","s":"Al","E":-1125,"I":0.0012},{"p":"b","s":"Al","E":-1067,"I":0.0018},{"p":"b","s":"Al","E":-1008,"I":0.0026},{"p":"b","s":"Al","E":-950,"I":0.0035},{"p":"b","s":"Al","E":-891,"I":0.0047},{"p":"b","s":"Al","E":-833,"I":0.0062},{"p":"b","s":"Al","E":-774,"I":0.0093},{"p":"b","s":"Al","E":-739,"I":0.0124},{"p":"b","s":"Al","E":-728,"I":0.028},{"p":"b","s":"Al","E":-719,"I":0.126},{"p":"b","s":"Al","E":-710,"I":0.63},{"p":"b","s":"Al","E":-693,"I":1.8},{"p":"b","s":"Al","E":-676,"I":2.9},{"p":"b","s":"Al","E":-658,"I":3.9},

      {"p":"b","s":"Al-0.5Cr","E":-1450,"I":0.0023},{"p":"b","s":"Al-0.5Cr","E":-1420,"I":0.0015},{"p":"b","s":"Al-0.5Cr","E":-1388,"I":0.00098},{"p":"b","s":"Al-0.5Cr","E":-1330,"I":0.00044},{"p":"b","s":"Al-0.5Cr","E":-1289,"I":0.000195},{"p":"b","s":"Al-0.5Cr","E":-1271,"I":0.000096},{"p":"b","s":"Al-0.5Cr","E":-1263,"I":0.000034},{"p":"b","s":"Al-0.5Cr","E":-1261,"I":0.000005},{"p":"b","s":"Al-0.5Cr","E":-1260,"I":0.00000095},{"p":"b","s":"Al-0.5Cr","E":-1259,"I":0.000005},{"p":"b","s":"Al-0.5Cr","E":-1256,"I":0.000019},{"p":"b","s":"Al-0.5Cr","E":-1248,"I":0.000085},{"p":"b","s":"Al-0.5Cr","E":-1225,"I":0.00022},{"p":"b","s":"Al-0.5Cr","E":-1184,"I":0.00044},{"p":"b","s":"Al-0.5Cr","E":-1125,"I":0.00078},{"p":"b","s":"Al-0.5Cr","E":-1067,"I":0.0012},{"p":"b","s":"Al-0.5Cr","E":-1008,"I":0.0016},{"p":"b","s":"Al-0.5Cr","E":-950,"I":0.0022},{"p":"b","s":"Al-0.5Cr","E":-891,"I":0.0029},{"p":"b","s":"Al-0.5Cr","E":-833,"I":0.0041},{"p":"b","s":"Al-0.5Cr","E":-774,"I":0.0056},{"p":"b","s":"Al-0.5Cr","E":-728,"I":0.0081},{"p":"b","s":"Al-0.5Cr","E":-710,"I":0.0123},{"p":"b","s":"Al-0.5Cr","E":-704,"I":0.05},{"p":"b","s":"Al-0.5Cr","E":-698,"I":0.28},{"p":"b","s":"Al-0.5Cr","E":-690,"I":0.8},{"p":"b","s":"Al-0.5Cr","E":-681,"I":1.59},{"p":"b","s":"Al-0.5Cr","E":-665,"I":2.7},{"p":"b","s":"Al-0.5Cr","E":-646,"I":3.8},

      {"p":"b","s":"Al-3Zn-Ti-Mn-In","E":-1342,"I":0.25},{"p":"b","s":"Al-3Zn-Ti-Mn-In","E":-1340,"I":0.18},{"p":"b","s":"Al-3Zn-Ti-Mn-In","E":-1336,"I":0.14},{"p":"b","s":"Al-3Zn-Ti-Mn-In","E":-1324,"I":0.118},{"p":"b","s":"Al-3Zn-Ti-Mn-In","E":-1300,"I":0.1},{"p":"b","s":"Al-3Zn-Ti-Mn-In","E":-1265,"I":0.08},{"p":"b","s":"Al-3Zn-Ti-Mn-In","E":-1242,"I":0.068},{"p":"b","s":"Al-3Zn-Ti-Mn-In","E":-1207,"I":0.05},{"p":"b","s":"Al-3Zn-Ti-Mn-In","E":-1184,"I":0.039},{"p":"b","s":"Al-3Zn-Ti-Mn-In","E":-1155,"I":0.031},{"p":"b","s":"Al-3Zn-Ti-Mn-In","E":-1125,"I":0.025},{"p":"b","s":"Al-3Zn-Ti-Mn-In","E":-1095,"I":0.019},{"p":"b","s":"Al-3Zn-Ti-Mn-In","E":-1067,"I":0.0156},{"p":"b","s":"Al-3Zn-Ti-Mn-In","E":-1040,"I":0.0122},{"p":"b","s":"Al-3Zn-Ti-Mn-In","E":-1015,"I":0.0097},{"p":"b","s":"Al-3Zn-Ti-Mn-In","E":-1010,"I":0.0093},{"p":"b","s":"Al-3Zn-Ti-Mn-In","E":-1005,"I":0.0098},{"p":"b","s":"Al-3Zn-Ti-Mn-In","E":-990,"I":0.0087},{"p":"b","s":"Al-3Zn-Ti-Mn-In","E":-973,"I":0.0078},{"p":"b","s":"Al-3Zn-Ti-Mn-In","E":-968,"I":0.0066},{"p":"b","s":"Al-3Zn-Ti-Mn-In","E":-967,"I":0.0009},{"p":"b","s":"Al-3Zn-Ti-Mn-In","E":-966,"I":0.00039},{"p":"b","s":"Al-3Zn-Ti-Mn-In","E":-963,"I":0.0004},{"p":"b","s":"Al-3Zn-Ti-Mn-In","E":-961,"I":0.0007},{"p":"b","s":"Al-3Zn-Ti-Mn-In","E":-956,"I":0.00155},{"p":"b","s":"Al-3Zn-Ti-Mn-In","E":-950,"I":0.0049},{"p":"b","s":"Al-3Zn-Ti-Mn-In","E":-947,"I":0.0155},{"p":"b","s":"Al-3Zn-Ti-Mn-In","E":-941,"I":0.035},{"p":"b","s":"Al-3Zn-Ti-Mn-In","E":-938,"I":0.063},{"p":"b","s":"Al-3Zn-Ti-Mn-In","E":-926,"I":0.14},{"p":"b","s":"Al-3Zn-Ti-Mn-In","E":-914,"I":0.22},{"p":"b","s":"Al-3Zn-Ti-Mn-In","E":-900,"I":0.38},{"p":"b","s":"Al-3Zn-Ti-Mn-In","E":-886,"I":0.63},{"p":"b","s":"Al-3Zn-Ti-Mn-In","E":-870,"I":1.1},{"p":"b","s":"Al-3Zn-Ti-Mn-In","E":-851,"I":1.8},{"p":"b","s":"Al-3Zn-Ti-Mn-In","E":-830,"I":2.7},{"p":"b","s":"Al-3Zn-Ti-Mn-In","E":-809,"I":3.8}
    ],
    "t": [
      {"p":"a","s":"mild steel","E":-1689,"I":0.77},
      {"p":"a","s":"Al-1Sn","E":-1474,"I":0.212},
      {"p":"a","s":"Al-0.1In","E":-1219,"I":0.204},
      {"p":"a","s":"Al-3Zn-Ti-Mn-In","E":-624,"I":5.73},
      {"p":"a","s":"Al-2Si","E":-722,"I":0.0000108},
      {"p":"a","s":"Al-5Zn","E":-916,"I":0.00000164},
      {"p":"a","s":"Al","E":-1121,"I":0.00000027},
      {"p":"a","s":"Al-0.2Ga","E":-1372,"I":0.00000073},
      {"p":"a","s":"Al-0.5Cr","E":-1063,"I":0.0000000047},
      {"p":"b","s":"mild steel","E":-1654,"I":1.01},
      {"p":"b","s":"Al-1Sn","E":-1507,"I":0.167},
      {"p":"b","s":"Al-0.1In","E":-1205,"I":0.136},
      {"p":"b","s":"Al-3Zn-Ti-Mn-In","E":-563,"I":5.94},
      {"p":"b","s":"Al-0.5Cr","E":-688,"I":0.000697},
      {"p":"b","s":"Al-2Si","E":-819,"I":0.000076},
      {"p":"b","s":"Al-5Zn","E":-1061,"I":0.00000507},
      {"p":"b","s":"Al-0.2Ga","E":-1123,"I":0.000087},
      {"p":"b","s":"Al","E":-1377,"I":0.00000384}
    ],
    "r": [
      {"p":"a","E":-1598,"I":0.95,"E2":-1526,"I2":3.15,"ang":56},
      {"p":"a","E":-1449,"I":0.1026,"E2":-1392,"I2":0.0193,"ang":140},
      {"p":"a","E":-1145,"I":0.212,"E2":-1075,"I2":0.171,"ang":98},
      {"p":"a","E":-767,"I":6.52,"E2":-806,"I2":3.9,"ang":242},
      {"p":"a","E":-726,"I":0.0000265,"E2":-772,"I2":0.000096,"ang":318},
      {"p":"a","E":-923,"I":0.0000042,"E2":-959,"I2":0.0000197,"ang":330},
      {"p":"a","E":-1154,"I":0.00000035,"E2":-1255,"I2":0.00000133,"ang":298},
      {"p":"a","E":-1320,"I":0.00000204,"E2":-1277,"I2":0.00000386,"ang":59},
      {"p":"a","E":-1154,"I":0.000000006,"E2":-1236,"I2":0.0000000176,"ang":297},
      {"p":"b","E":-1567,"I":1.21,"E2":-1491,"I2":2.97,"ang":59},
      {"p":"b","E":-1470,"I":0.0927,"E2":-1404,"I2":0.0275,"ang":133},
      {"p":"b","E":-1175,"I":0.262,"E2":-1104,"I2":0.562,"ang":62},
      {"p":"b","E":-711,"I":5.94,"E2":-800,"I2":3.92,"ang":257},
      {"p":"b","E":-677,"I":0.0014,"E2":-707,"I2":0.01156,"ang":344},
      {"p":"b","E":-842,"I":0.000137,"E2":-888,"I2":0.0004,"ang":320},
      {"p":"b","E":-1063,"I":0.0000091,"E2":-1002,"I2":0.0000341,"ang":43},
      {"p":"b","E":-1118,"I":0.000152,"E2":-1114,"I2":0.00051,"ang":3},
      {"p":"b","E":-1377,"I":0.0000109,"E2":-1300,"I2":0.0000268,"ang":59}
    ]
  },
  "vconcat": [
    {
      "width": 809,
      "height": 538,
      "title": {"text": "(a) As-cast", "frame": "group", "offset": -9},
      "resolve": {"axis": {"x": "independent", "y": "independent"}},
      "layer": [
        {"data": {"name": "c"}, "transform": [{"filter": "datum.p == 'a'"}],
         "mark": {"type": "line", "strokeWidth": 1.8},
         "encoding": {
            "x": {"field": "E", "type": "quantitative", "scale": {"domain": [-1800, -400], "nice": false, "zero": false},
                  "axis": {"orient": "bottom", "format": "d", "values": [-1800,-1600,-1400,-1200,-1000,-800,-600,-400], "title": "Potential/mV (vs. Ag/AgCl)", "tickSize": 7, "labelPadding": 4, "titlePadding": 16, "labelFlush": false}},
            "y": {"field": "I", "type": "quantitative", "scale": {"type": "log", "domain": [1e-9, 10], "nice": false},
                  "axis": {"orient": "left", "title": "Current density/ mAcm⁻²", "titlePadding": 21, "labelPadding": 13, "tickSize": 9, "labelFontSize": 25,
                           "values": [1e-9,1e-8,1e-7,1e-6,1e-5,1e-4,0.001,0.01,0.1,1,10],
                           "labelExpr": "datum.value >= 9.99 ? '10' : datum.value > 0.999 ? '1' : '1 × 10⁻' + ['⁰','¹','²','³','⁴','⁵','⁶','⁷','⁸','⁹'][-round(log(datum.value)/LN10)]",
                           "labelOverlap": false}},
            "color": {"field": "s", "type": "nominal", "legend": null,
            "scale": {"domain": ["mild steel","Al-1Sn","Al-0.1In","Al-5Zn","Al-3Zn-Ti-Mn-In","Al-2Si","Al-0.2Ga","Al","Al-0.5Cr"],
                      "range": ["#3b27cc","#7a3db2","#e8231f","#1fa24c","#111111","#1f70c0","#2aaad9","#f2b91c","#8a8a8a"]}},
            "order": {"value": null}}},
        {"data": {"name": "r"}, "transform": [{"filter": "datum.p == 'a'"}],
         "mark": {"type": "rule", "color": "#111", "strokeWidth": 1.6},
         "encoding": {"x": {"field": "E", "type": "quantitative", "axis": null}, "y": {"field": "I", "type": "quantitative", "axis": null}, "x2": {"field": "E2"}, "y2": {"field": "I2"}}},
        {"data": {"name": "r"}, "transform": [{"filter": "datum.p == 'a'"}],
         "mark": {"type": "point", "shape": "M-1,1L0,0L1,1", "filled": false, "size": 110, "strokeWidth": 1.6, "color": "#111", "opacity": 1},
         "encoding": {"x": {"field": "E2", "type": "quantitative", "axis": null},
                      "y": {"field": "I2", "type": "quantitative",
                            "axis": {"orient": "left", "title": null, "labels": false, "domain": false, "tickSize": -5,
                                     "values": [1e-9,2e-9,3e-9,4e-9,5e-9,6e-9,7e-9,8e-9,9e-9,1e-8,2e-8,3e-8,4e-8,5e-8,6e-8,7e-8,8e-8,9e-8,1e-7,2e-7,3e-7,4e-7,5e-7,6e-7,7e-7,8e-7,9e-7,1e-6,2e-6,3e-6,4e-6,5e-6,6e-6,7e-6,8e-6,9e-6,1e-5,2e-5,3e-5,4e-5,5e-5,6e-5,7e-5,8e-5,9e-5,1e-4,2e-4,3e-4,4e-4,5e-4,6e-4,7e-4,8e-4,9e-4,0.001,0.002,0.003,0.004,0.005,0.006,0.007,0.008,0.009,0.01,0.02,0.03,0.04,0.05,0.06,0.07,0.08,0.09,0.1,0.2,0.3,0.4,0.5,0.6,0.7,0.8,0.9,1,2,3,4,5,6,7,8,9,10]}},
                      "angle": {"field": "ang", "type": "quantitative", "scale": null}}},
        {"data": {"name": "t"}, "transform": [{"filter": "datum.p == 'a'"}],
         "mark": {"type": "text", "font": "Liberation Sans", "fontWeight": "bold", "fontSize": 22, "color": "#111", "align": "center", "baseline": "middle"},
         "encoding": {"x": {"field": "E", "type": "quantitative", "axis": null}, "y": {"field": "I", "type": "quantitative", "axis": null}, "text": {"field": "s"}}}
      ]
    },
    {
      "width": 797,
      "height": 531,
      "title": {"text": "(b) Solution treated", "frame": "group", "offset": -9},
      "resolve": {"axis": {"x": "independent", "y": "independent"}},
      "layer": [
        {"data": {"name": "c"}, "transform": [{"filter": "datum.p == 'b'"}],
         "mark": {"type": "line", "strokeWidth": 1.8},
         "encoding": {
            "x": {"field": "E", "type": "quantitative", "scale": {"domain": [-1800, -400], "nice": false, "zero": false},
                  "axis": {"orient": "bottom", "format": "d", "values": [-1800,-1600,-1400,-1200,-1000,-800,-600,-400], "title": "Potential/mV (vs. Ag/AgCl)", "tickSize": 7, "labelPadding": 4, "titlePadding": 26, "labelFlush": false}},
            "y": {"field": "I", "type": "quantitative", "scale": {"type": "log", "domain": [1e-7, 10], "nice": false},
                  "axis": {"orient": "left", "title": "Current density/ mAcm⁻²", "titlePadding": 21, "labelPadding": 13, "tickSize": 9, "labelFontSize": 25,
                           "values": [1e-7,1e-6,1e-5,1e-4,0.001,0.01,0.1,1,10],
                           "labelExpr": "datum.value >= 9.99 ? '10' : datum.value > 0.999 ? '1' : '1 × 10⁻' + ['⁰','¹','²','³','⁴','⁵','⁶','⁷','⁸','⁹'][-round(log(datum.value)/LN10)]",
                           "labelOverlap": false}},
            "color": {"field": "s", "type": "nominal", "legend": null,
            "scale": {"domain": ["mild steel","Al-1Sn","Al-0.1In","Al-5Zn","Al-3Zn-Ti-Mn-In","Al-2Si","Al-0.2Ga","Al","Al-0.5Cr"],
                      "range": ["#3b27cc","#7a3db2","#e8231f","#1fa24c","#111111","#1f70c0","#2aaad9","#f2b91c","#8a8a8a"]}},
            "order": {"value": null}}},
        {"data": {"name": "r"}, "transform": [{"filter": "datum.p == 'b'"}],
         "mark": {"type": "rule", "color": "#111", "strokeWidth": 1.6},
         "encoding": {"x": {"field": "E", "type": "quantitative", "axis": null}, "y": {"field": "I", "type": "quantitative", "axis": null}, "x2": {"field": "E2"}, "y2": {"field": "I2"}}},
        {"data": {"name": "r"}, "transform": [{"filter": "datum.p == 'b'"}],
         "mark": {"type": "point", "shape": "M-1,1L0,0L1,1", "filled": false, "size": 110, "strokeWidth": 1.6, "color": "#111", "opacity": 1},
         "encoding": {"x": {"field": "E2", "type": "quantitative", "axis": null},
                      "y": {"field": "I2", "type": "quantitative",
                            "axis": {"orient": "left", "title": null, "labels": false, "domain": false, "tickSize": -5,
                                     "values": [1e-7,2e-7,3e-7,4e-7,5e-7,6e-7,7e-7,8e-7,9e-7,1e-6,2e-6,3e-6,4e-6,5e-6,6e-6,7e-6,8e-6,9e-6,1e-5,2e-5,3e-5,4e-5,5e-5,6e-5,7e-5,8e-5,9e-5,1e-4,2e-4,3e-4,4e-4,5e-4,6e-4,7e-4,8e-4,9e-4,0.001,0.002,0.003,0.004,0.005,0.006,0.007,0.008,0.009,0.01,0.02,0.03,0.04,0.05,0.06,0.07,0.08,0.09,0.1,0.2,0.3,0.4,0.5,0.6,0.7,0.8,0.9,1,2,3,4,5,6,7,8,9,10]}},
                      "angle": {"field": "ang", "type": "quantitative", "scale": null}}},
        {"data": {"name": "t"}, "transform": [{"filter": "datum.p == 'b'"}],
         "mark": {"type": "text", "font": "Liberation Sans", "fontWeight": "bold", "fontSize": 22, "color": "#111", "align": "center", "baseline": "middle"},
         "encoding": {"x": {"field": "E", "type": "quantitative", "axis": null}, "y": {"field": "I", "type": "quantitative", "axis": null}, "text": {"field": "s"}}}
      ]
    }
  ],
  "config": {
    "view": {"stroke": "#555", "strokeWidth": 1.5},
    "axis": {"grid": false, "domainColor": "#555", "domainWidth": 1.5, "tickColor": "#555", "tickWidth": 1.2,
             "labelFont": "Liberation Serif", "labelFontSize": 24, "labelColor": "#222",
             "titleFont": "Liberation Sans", "titleFontSize": 23, "titleFontWeight": "bold", "titleColor": "#111"},
    "title": {"font": "Liberation Sans", "fontSize": 30, "fontWeight": "bold", "anchor": "start", "color": "#111"}
  }
}
